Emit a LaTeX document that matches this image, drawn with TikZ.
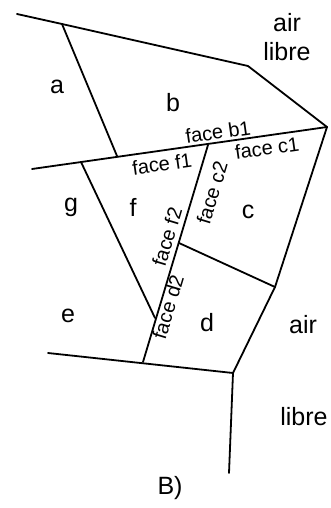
\documentclass[tikz,border=0pt]{standalone}
\usepackage{fontspec}
\setmainfont{Liberation Sans}
\begin{document}
\begin{tikzpicture}[x=1pt,y=-1pt,
  edge/.style={line width=1.8pt,line cap=round,line join=round},
  region/.style={font=\fontsize{25}{25}\selectfont,inner sep=0pt},
  facelbl/.style={font=\fontsize{20}{20}\selectfont,inner sep=0pt}]
\useasboundingbox (0,0) rectangle (331,508);
% points
\coordinate (t0) at (17,14);
\coordinate (t1) at (62,24);
\coordinate (t2) at (248,66);
\coordinate (r) at (327,127);
\coordinate (m0) at (32,169);
\coordinate (g) at (81,162);
\coordinate (ab) at (117,156);
\coordinate (cf) at (208,145);
\coordinate (fe) at (155,318);
\coordinate (cd) at (179,243);
\coordinate (rp) at (275,287);
\coordinate (b) at (143,362);
\coordinate (br) at (233,373);
\coordinate (l0) at (48,353);
\coordinate (bot) at (229,473);
% lines
\draw[edge] (t0) -- (t1) -- (t2) -- (r);
\draw[edge] (t1) -- (ab);
\draw[edge] (m0) -- (r);
\draw[edge] (g) -- (fe);
\draw[edge] (cf) -- (b);
\draw[edge] (cd) -- (rp);
\draw[edge] (r) -- (rp) -- (br);
\draw[edge] (l0) -- (br);
\draw[edge] (br) -- (bot);
% region labels
\node[region] (air1) at (287,23) {air};
\node[region] (libre1) at (287,52) {libre};
\node[region] (la) at (57,87) {a};
\node[region] (lb) at (173,103) {b};
\node[region] (lg) at (71,207) {g};
\node[region] (lf) at (133,207) {f};
\node[region] (lc) at (248,212) {c};
\node[region] (le) at (68,316) {e};
\node[region] (ld) at (207,323) {d};
\node[region] (air2) at (303,325) {air};
\node[region] (libre2) at (304,417) {libre};
\node[region] (cap) at (170,488) {B)};
% face labels
\node[facelbl,rotate=8.1] (fb1) at (218,132) {face b1};
\node[facelbl,rotate=8.1] (fc1) at (267,148) {face c1};
\node[facelbl,rotate=8.1] (ff1) at (162,164) {face f1};
\node[facelbl,rotate=73.3] (fc2) at (212,193) {face c2};
\node[facelbl,rotate=73.3] (ff2) at (167,237) {face f2};
\node[facelbl,rotate=73.3] (fd2) at (168,307) {face d2};
\end{tikzpicture}
\end{document}
